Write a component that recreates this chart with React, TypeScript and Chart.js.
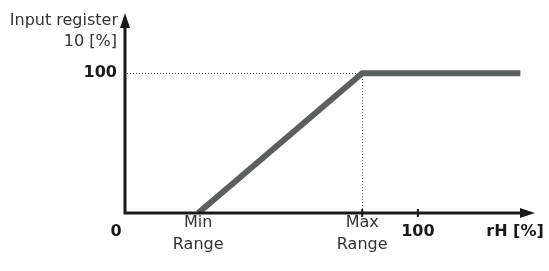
import React, { useEffect, useRef } from "react";
import { Chart, registerables } from "chart.js";

Chart.register(...registerables);

// Data (abstract positions on the rH axis, input register in %)
const xPoints = [25, 81, 135];
const yPoints = [0, 100, 100];
const minRangeX = 25;
const maxRangeX = 81;
const hundredX = 100;
const yLevel = 100;
const xTickLabels = ["Min\nRange", "Max\nRange", "100"];
const yAxisTitle = ["Input register", "10 [%]"];
const xAxisTitle = "rH [%]";

const FONT = "DejaVu Sans, Verdana, sans-serif";

const overlay = {
  id: "overlay",
  afterDatasetsDraw(chart: any) {
    const ctx = chart.ctx;
    const xs = chart.scales.x;
    const ys = chart.scales.y;
    const x0 = xs.getPixelForValue(0);
    const y0 = ys.getPixelForValue(0);
    const xEnd = xs.getPixelForValue(xs.max);
    const yTop = ys.getPixelForValue(ys.max);
    const xMax = xs.getPixelForValue(maxRangeX);
    const xMin = xs.getPixelForValue(minRangeX);
    const x100 = xs.getPixelForValue(hundredX);
    const y100 = ys.getPixelForValue(yLevel);
    ctx.save();
    // dotted guides
    ctx.strokeStyle = "#555";
    ctx.lineWidth = 1;
    ctx.setLineDash([1, 2]);
    ctx.beginPath();
    ctx.moveTo(x0 + 2, Math.round(y100) + 0.5);
    ctx.lineTo(xMax, Math.round(y100) + 0.5);
    ctx.moveTo(Math.round(xMax) + 0.5, y100);
    ctx.lineTo(Math.round(xMax) + 0.5, y0);
    ctx.stroke();
    ctx.setLineDash([]);
    // axes
    ctx.strokeStyle = "#1a1a1a";
    ctx.fillStyle = "#1a1a1a";
    ctx.lineWidth = 3;
    ctx.beginPath();
    ctx.moveTo(x0, yTop + 10);
    ctx.lineTo(x0, y0);
    ctx.lineTo(xEnd - 10, y0);
    ctx.stroke();
    // arrows
    ctx.beginPath();
    ctx.moveTo(x0, yTop);
    ctx.lineTo(x0 - 5, yTop + 15);
    ctx.lineTo(x0 + 5, yTop + 15);
    ctx.closePath();
    ctx.fill();
    ctx.beginPath();
    ctx.moveTo(xEnd, y0);
    ctx.lineTo(xEnd - 15, y0 - 5);
    ctx.lineTo(xEnd - 15, y0 + 5);
    ctx.closePath();
    ctx.fill();
    // ticks
    ctx.lineWidth = 2;
    ctx.beginPath();
    ctx.moveTo(xMax, y0 - 4);
    ctx.lineTo(xMax, y0 + 4);
    ctx.moveTo(x100, y0 - 4);
    ctx.lineTo(x100, y0 + 4);
    ctx.stroke();
    // labels
    ctx.fillStyle = "#333";
    ctx.textBaseline = "middle";
    ctx.font = `16px ${FONT}`;
    ctx.textAlign = "right";
    ctx.fillText(yAxisTitle[0], x0 - 7, 21);
    ctx.fillText(yAxisTitle[1], x0 - 8, 42);
    ctx.fillStyle = "#1a1a1a";
    ctx.font = `bold 16px ${FONT}`;
    ctx.fillText("100", x0 - 8, y100);
    ctx.textAlign = "center";
    ctx.fillText("0", x0 - 9, y0 + 19);
    ctx.fillText(xTickLabels[2], x100, y0 + 19);
    ctx.fillText(xAxisTitle, xEnd - 20, y0 + 19);
    ctx.fillStyle = "#333";
    ctx.font = `16px ${FONT}`;
    const minL = xTickLabels[0].split("\n");
    const maxL = xTickLabels[1].split("\n");
    ctx.fillText(minL[0], xMin, y0 + 10);
    ctx.fillText(minL[1], xMin, y0 + 32);
    ctx.fillText(maxL[0], xMax, y0 + 10);
    ctx.fillText(maxL[1], xMax, y0 + 32);
    ctx.restore();
  },
};

export default function App() {
  const ref = useRef<HTMLCanvasElement>(null);
  useEffect(() => {
    const chart = new Chart(ref.current!, {
      type: "line",
      data: {
        datasets: [
          {
            data: xPoints.map((x, i) => ({ x, y: yPoints[i] })),
            borderColor: "#5b5f5f",
            borderWidth: 6,
            pointRadius: 0,
            tension: 0,
            borderJoinStyle: "miter",
            borderCapStyle: "butt",
          },
        ],
      },
      options: {
        animation: false,
        responsive: false,
        layout: { padding: { left: 125, right: 14, top: 13, bottom: 58 } },
        plugins: { legend: { display: false }, tooltip: { enabled: false } },
        scales: {
          x: { type: "linear", min: 0, max: 140, display: false },
          y: { type: "linear", min: 0, max: 143, display: false },
        },
      },
      plugins: [overlay],
    });
    return () => chart.destroy();
  }, []);
  return (
    <div style={{ position: "fixed", left: 0, top: 0, width: 549, height: 271, background: "#fff" }}>
      <canvas ref={ref} width={549} height={271} style={{ width: 549, height: 271 }} />
    </div>
  );
}
